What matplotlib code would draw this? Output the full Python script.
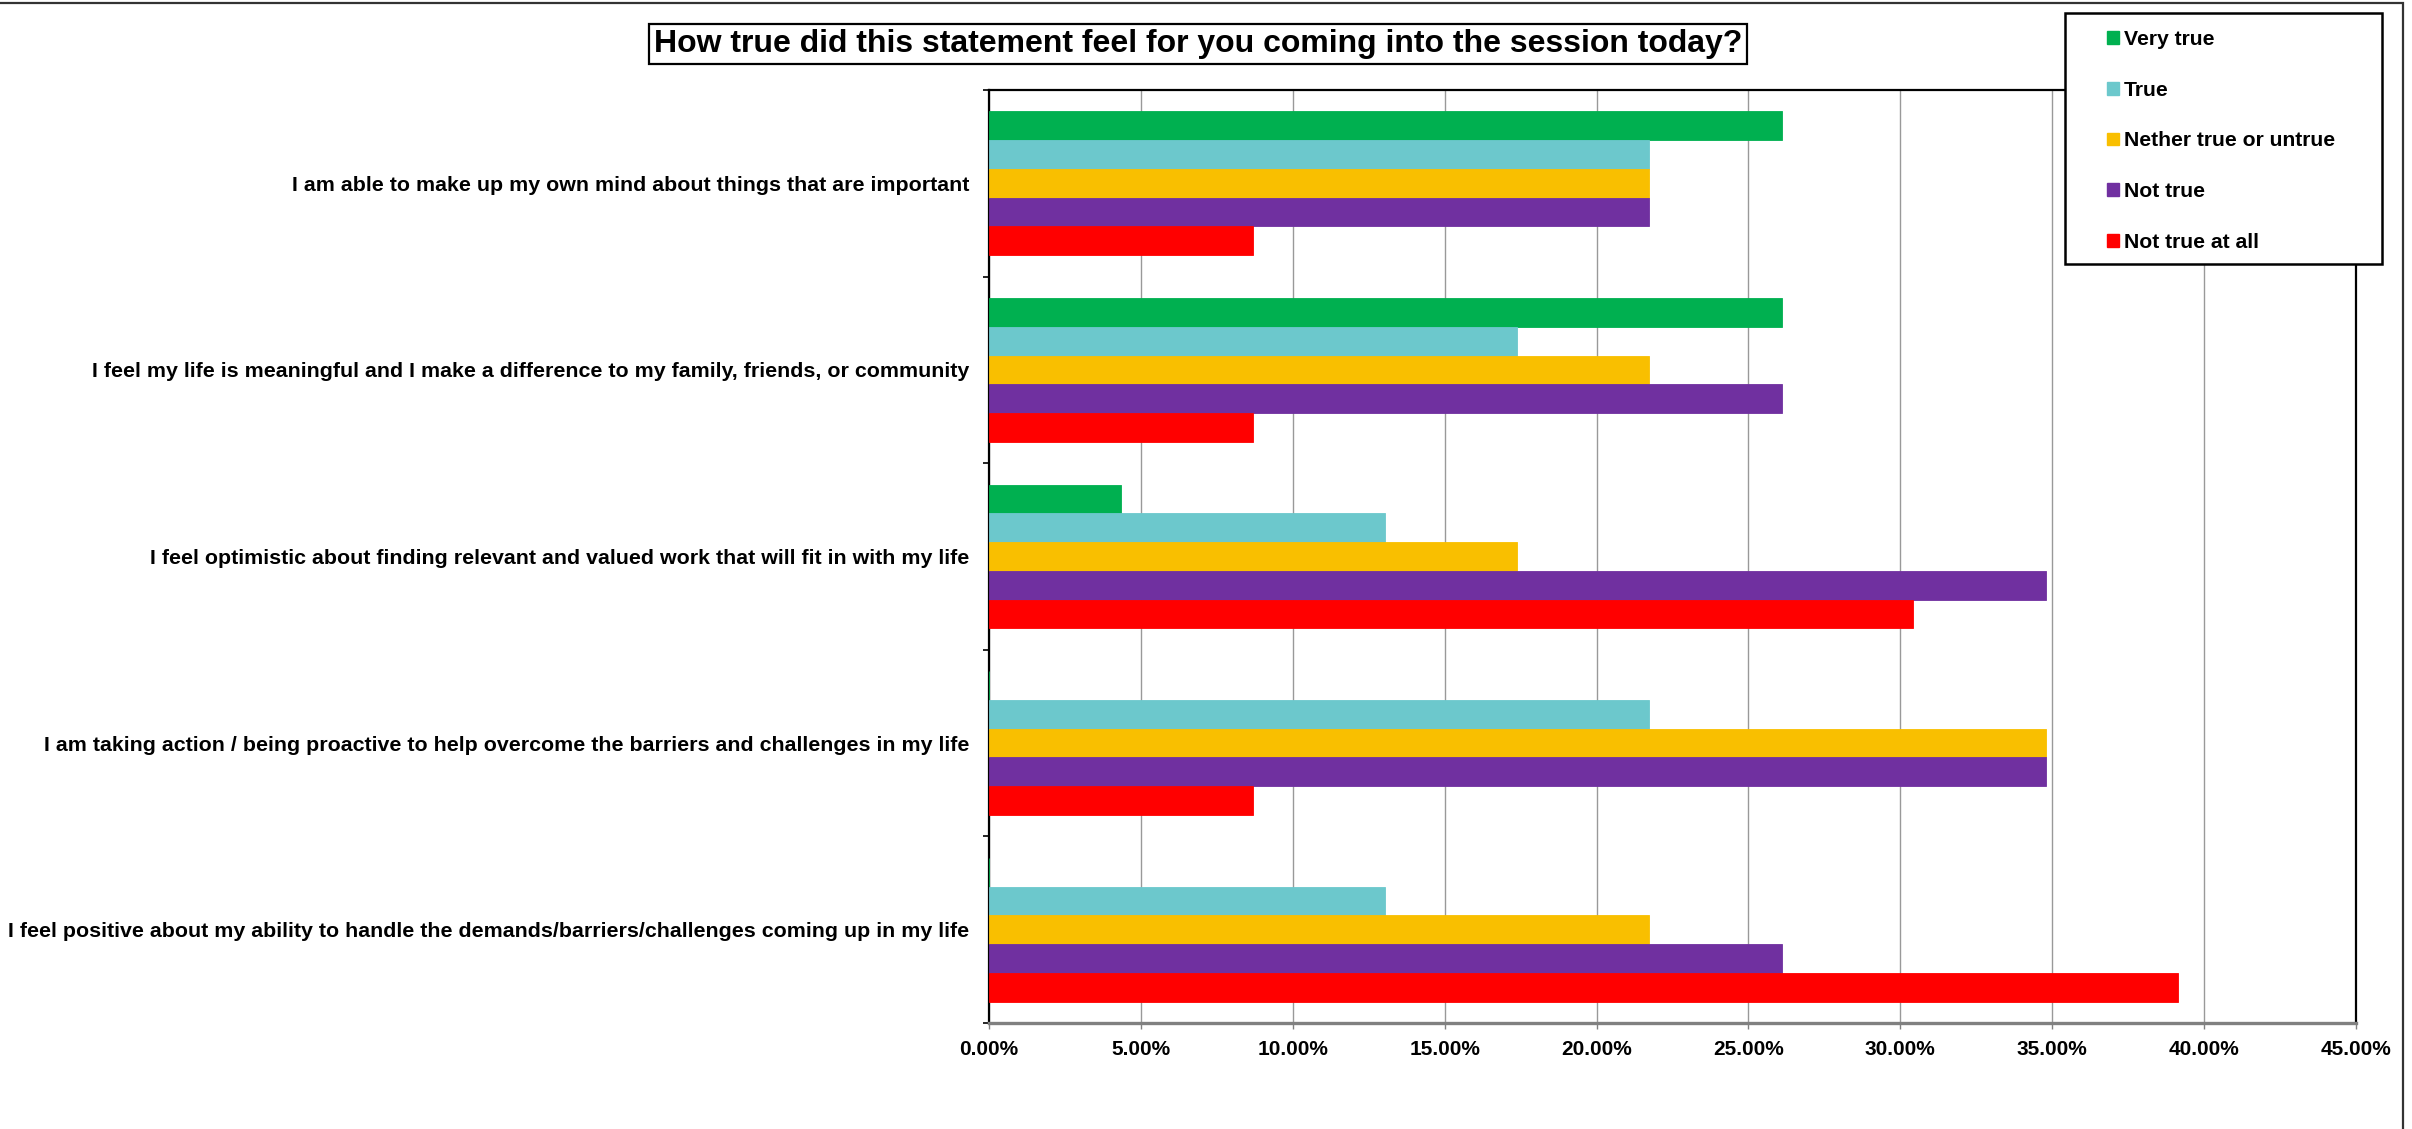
import numpy as np
import matplotlib
matplotlib.use("Agg")
from matplotlib import pyplot as plt
from matplotlib.patches import Patch, Rectangle
from matplotlib.ticker import FuncFormatter, MultipleLocator, FixedLocator

plt.rcParams['font.family'] = ['Liberation Sans', 'DejaVu Sans']
plt.rcParams['font.weight'] = 'bold'

statements = [
    "I am able to make up my own mind about things that are important",
    "I feel my life is meaningful and I make a difference to my family, friends, or community",
    "I feel optimistic about finding relevant and valued work that will fit in with my life",
    "I am taking action / being proactive to help overcome the barriers and challenges in my life",
    "I feel positive about my ability to handle the demands/barriers/challenges coming up in my life",
]
responses = ["Very true", "True", "Nether true or untrue", "Not true", "Not true at all"]

# share of respondents (%) per statement, one list per response
very_true = [26.09, 26.09, 4.35, 0.0, 0.0]
true_ = [21.74, 17.39, 13.04, 21.74, 13.04]
neither = [21.74, 21.74, 17.39, 34.78, 21.74]
not_true = [21.74, 26.09, 34.78, 34.78, 26.09]
not_true_at_all = [8.70, 8.70, 30.43, 8.70, 39.13]

series = [very_true, true_, neither, not_true, not_true_at_all]
colours = ["#00B050", "#6CC8CC", "#F9BF00", "#7030A0", "#FF0000"]

W, H = 2412, 1129
fig = plt.figure(figsize=(W / 100, H / 100), dpi=100)
ax = fig.add_axes([989 / W, 1 - 1023 / H, (2356 - 989) / W, (1023 - 90) / H])

y = np.arange(len(statements))
h = 0.154
for i, (vals, c) in enumerate(zip(series, colours)):
    ax.barh(y + (i - 2) * h, vals, height=h, color=c, edgecolor=c,
            linewidth=0.6, label=responses[i], zorder=3)

ax.set_xlim(0, 45)
ax.set_ylim(len(statements) - 0.5, -0.5)
ax.xaxis.set_major_locator(MultipleLocator(5))
ax.xaxis.set_major_formatter(FuncFormatter(lambda v, p: "%.2f%%" % v))
ax.grid(axis="x", color="#999999", lw=1.0, zorder=0)

ax.set_yticks(y)
ax.set_yticklabels(statements)
ax.yaxis.set_minor_locator(FixedLocator(np.arange(-0.5, len(statements), 1)))
ax.tick_params(axis="y", which="major", length=0, pad=14, labelsize=15.4)
ax.tick_params(axis="y", which="minor", length=4.5, width=1.2, color="black")
ax.tick_params(axis="x", length=4, width=1, color="#808080", pad=8, labelsize=15)

for s in ["top", "left", "right"]:
    ax.spines[s].set_color("black")
    ax.spines[s].set_linewidth(1.6)
ax.spines["bottom"].set_color("#808080")
ax.spines["bottom"].set_linewidth(2.4)

# title in its own framed box
fig.text(1198 / W, 1 - 44 / H, "How true did this statement feel for you coming into the session today?",
         ha="center", va="center", fontsize=23, fontweight="bold",
         bbox=dict(boxstyle="square,pad=0.15", fc="white", ec="black", lw=1.6))

# legend: framed box drawn separately so the padding can be wider than tall
fig.patches.append(Rectangle((2065 / W, 1 - 264 / H), (2382 - 2065) / W, (264 - 13) / H,
                             transform=fig.transFigure, fc="white", ec="black",
                             lw=1.8, zorder=5))
handles = [Patch(facecolor=c, edgecolor=c) for c in colours]
leg = fig.legend(handles, responses, loc="upper left",
                 bbox_to_anchor=(2107 / W, 1 - 30 / H), borderaxespad=0,
                 borderpad=0, fontsize=15.2, handlelength=0.55, handleheight=0.55,
                 handletextpad=0.25, labelspacing=1.5, frameon=False)
leg.set_zorder(6)
for t in leg.get_texts():
    t.set_fontweight("bold")

# chart border (top and right edges visible)
fig.patches.append(Rectangle((-0.01, -0.01), 2403 / W + 0.01, 1 - 3 / H + 0.01,
                             transform=fig.transFigure, fill=False,
                             ec="#333333", lw=1.6))

fig.savefig("out.png", dpi=100, facecolor="white")
